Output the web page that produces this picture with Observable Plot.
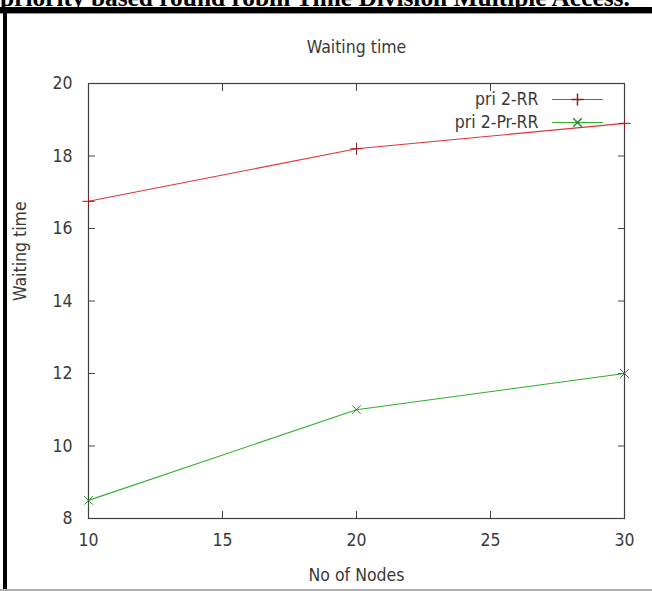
<!DOCTYPE html>
<html>
<head>
<meta charset="utf-8">
<script src="https://cdn.jsdelivr.net/npm/d3@7"></script>
<script src="https://cdn.jsdelivr.net/npm/@observablehq/plot@0.6"></script>
<style>
  html, body { margin: 0; padding: 0; background: #fff; }
  #wrap { position: relative; width: 652px; height: 591px; overflow: hidden; background: #fff; }
  #caption { position: absolute; left: 0; top: -15px; white-space: nowrap;
    font-family: "Liberation Serif", serif; font-weight: bold; font-size: 25px; line-height: 25px; color: #000; }
  #topbar { position: absolute; left: 0; top: 7px; width: 652px; height: 6px; background: #000; border-bottom: 1px solid #999; }
  #leftbar { position: absolute; left: 3px; top: 7px; width: 4px; height: 584px; background: #000; }
  #bottomline { position: absolute; left: 0; top: 589px; width: 652px; height: 2px; background: #b0b0b0; }
  #chart { position: absolute; left: 0; top: 0; }
</style>
</head>
<body>
<div id="wrap">
  <div id="chart"></div>
  <div id="caption">priority based round robin Time Division Multiple Access.</div>
  <div id="topbar"></div>
  <div id="leftbar"></div>
  <div id="bottomline"></div>
</div>
<script>
const nodes = [10, 20, 30];
const rrValues = [16.75, 18.2, 18.9];
const prrrValues = [8.5, 11.0, 12.0];
const seriesNames = ["pri 2-RR", "pri 2-Pr-RR"];
const xTicks = [10, 15, 20, 25, 30];
const yTicks = [8, 10, 12, 14, 16, 18, 20];
const titleText = "Waiting time";
const xLabel = "No of Nodes";
const yLabel = "Waiting time";

const red = "#e03434";
const green = "#2eb02e";

const rr = nodes.map((n, i) => ({x: n, y: rrValues[i]}));
const prrr = nodes.map((n, i) => ({x: n, y: prrrValues[i]}));

const lineShape = {draw(context, l) { context.moveTo(0, 0); context.lineTo(0, -l); }};

const font = "'DejaVu Sans Condensed', 'DejaVu Sans', sans-serif";
const fs = 17.5;
const txt = "#3a3a3a";

// fit the cropped caption to the reference width
(function () {
  const cap = document.getElementById("caption");
  const c = document.createElement("canvas").getContext("2d");
  c.font = "bold 25px 'Liberation Serif'";
  const w = c.measureText(cap.textContent).width;
  if (w > 0) {
    const size = 25 * 632 / w;
    cap.style.fontSize = size + "px";
    cap.style.lineHeight = size + "px";
    cap.style.top = (6 - (size - 1.107 * size) / 2 - 0.891 * size) + "px";
  }
})();

const chart = Plot.plot({
  width: 652,
  height: 591,
  marginLeft: 88,
  marginRight: 28,
  marginTop: 83,
  marginBottom: 73,
  style: {fontFamily: font, fontSize: fs + "px", color: txt, background: "transparent", fontStretch: "condensed"},
  x: {domain: [10, 30]},
  y: {domain: [8, 20]},
  marks: [
    Plot.axisX({ticks: xTicks, tickSize: -7, tickPadding: 22, tickFormat: d => String(d), label: null, stroke: "#444", fill: txt, fontSize: fs}),
    Plot.axisX({anchor: "top", ticks: xTicks, tickSize: -7, tickFormat: () => "", label: null, stroke: "#444"}),
    Plot.axisY({ticks: yTicks, tickSize: -7, tickPadding: 23, tickFormat: d => String(d), label: null, stroke: "#444", fill: txt, fontSize: fs}),
    Plot.axisY({anchor: "right", ticks: yTicks, tickSize: -7, tickFormat: () => "", label: null, stroke: "#444"}),
    Plot.frame({stroke: "#404040", strokeWidth: 1.2}),
    Plot.line(rr, {x: "x", y: "y", stroke: red, strokeWidth: 1.1}),
    Plot.dot(rr, {x: "x", y: "y", symbol: "plus", r: 4, stroke: "#8a2020", strokeWidth: 1}),
    Plot.line(prrr, {x: "x", y: "y", stroke: green, strokeWidth: 1.1}),
    Plot.dot(prrr, {x: "x", y: "y", symbol: "times", r: 4, stroke: "#2a8a2a", strokeWidth: 1}),
    Plot.text([titleText], {frameAnchor: "top", lineAnchor: "middle", dy: -36, fill: txt, fontSize: fs}),
    Plot.text([xLabel], {frameAnchor: "bottom", lineAnchor: "middle", dy: 57, fill: txt, fontSize: fs}),
    Plot.text([yLabel], {frameAnchor: "left", lineAnchor: "middle", dx: -68, rotate: -90, fill: txt, fontSize: fs}),
    Plot.text([seriesNames[0]], {frameAnchor: "top-right", lineAnchor: "middle", dx: -86, dy: 16, textAnchor: "end", fill: txt, fontSize: fs}),
    Plot.text([seriesNames[1]], {frameAnchor: "top-right", lineAnchor: "middle", dx: -86, dy: 39, textAnchor: "end", fill: txt, fontSize: fs}),
    Plot.vector([0], {frameAnchor: "top-right", dx: -72, dy: 16, rotate: 90, length: 50, anchor: "start", shape: lineShape, stroke: red, strokeWidth: 1.1}),
    Plot.vector([0], {frameAnchor: "top-right", dx: -72, dy: 39, rotate: 90, length: 50, anchor: "start", shape: lineShape, stroke: green, strokeWidth: 1.1}),
    Plot.dot([0], {frameAnchor: "top-right", dx: -47, dy: 16, symbol: "plus", r: 4, stroke: "#8a2020"}),
    Plot.dot([0], {frameAnchor: "top-right", dx: -47, dy: 39, symbol: "times", r: 4, stroke: "#2a8a2a"})
  ]
});
document.getElementById("chart").appendChild(chart);
</script>
</body>
</html>
